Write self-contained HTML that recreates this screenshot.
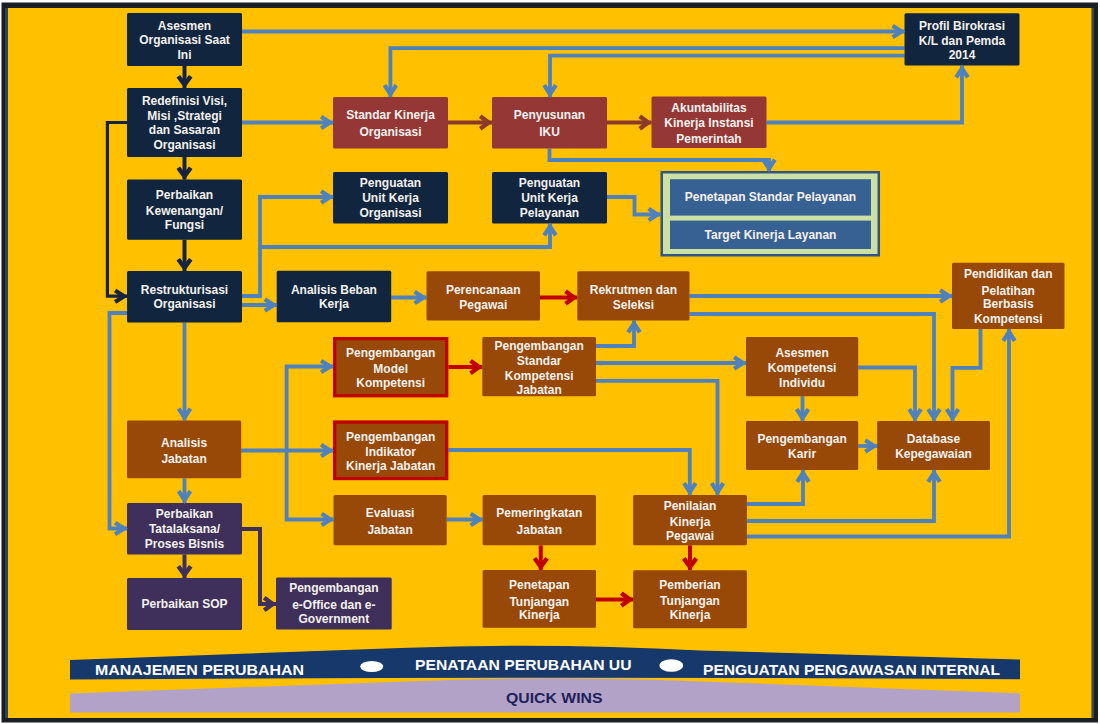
<!DOCTYPE html>
<html><head><meta charset="utf-8"><style>
html,body{margin:0;padding:0;background:#fff;width:1100px;height:724px;overflow:hidden}
svg{display:block}
text{font-family:"Liberation Sans",sans-serif;font-weight:bold}
</style></head><body>
<svg width="1100" height="724" viewBox="0 0 1100 724">
<rect x="0" y="0" width="1100" height="724" fill="#ffffff"/>
<g>
<rect x="1.5" y="2.5" width="1096.5" height="720" fill="#1a1f24"/>
<rect x="5" y="8" width="3" height="710" fill="#2e4456"/>
<rect x="1091.5" y="8" width="2.5" height="710" fill="#3a4a50"/>
<rect x="8" y="8" width="1083.5" height="710" fill="#ffc000"/>

<polyline points="242,31.5 904.5,31.5" fill="none" stroke="#4f81bd" stroke-width="3.8" stroke-linejoin="miter"/>
<polyline points="904.5,48.2 390.4,48.2 390.4,97" fill="none" stroke="#4f81bd" stroke-width="3.8" stroke-linejoin="miter"/>
<polyline points="904.5,55.6 550,55.6 550,97" fill="none" stroke="#4f81bd" stroke-width="3.8" stroke-linejoin="miter"/>
<polyline points="242,122.5 333,122.5" fill="none" stroke="#4f81bd" stroke-width="3.8" stroke-linejoin="miter"/>
<polyline points="766.5,122.5 962,122.5 962,65.5" fill="none" stroke="#4f81bd" stroke-width="3.8" stroke-linejoin="miter"/>
<polyline points="549.5,148.5 549.5,160 769,160 769,171" fill="none" stroke="#4f81bd" stroke-width="3.8" stroke-linejoin="miter"/>
<polyline points="242,296 260,296 260,197 333,197" fill="none" stroke="#4f81bd" stroke-width="3.8" stroke-linejoin="miter"/>
<polyline points="260,247 550,247 550,223.5" fill="none" stroke="#4f81bd" stroke-width="3.8" stroke-linejoin="miter"/>
<polyline points="242,305 276.7,305" fill="none" stroke="#4f81bd" stroke-width="3.8" stroke-linejoin="miter"/>
<polyline points="607,197 634.5,197 634.5,214.5 660.5,214.5" fill="none" stroke="#4f81bd" stroke-width="3.8" stroke-linejoin="miter"/>
<polyline points="391.2,297.5 426.5,297.5" fill="none" stroke="#4f81bd" stroke-width="3.8" stroke-linejoin="miter"/>
<polyline points="689.5,296 952,296" fill="none" stroke="#4f81bd" stroke-width="3.8" stroke-linejoin="miter"/>
<polyline points="689.5,314 934,314 934,421" fill="none" stroke="#4f81bd" stroke-width="3.8" stroke-linejoin="miter"/>
<polyline points="858.2,367.5 915,367.5 915,421" fill="none" stroke="#4f81bd" stroke-width="3.8" stroke-linejoin="miter"/>
<polyline points="980.5,328.9 980.5,367.8 952.5,367.8 952.5,421" fill="none" stroke="#4f81bd" stroke-width="3.8" stroke-linejoin="miter"/>
<polyline points="746.9,536.5 1009,536.5 1009,328.9" fill="none" stroke="#4f81bd" stroke-width="3.8" stroke-linejoin="miter"/>
<polyline points="596,346 634,346 634,320.5" fill="none" stroke="#4f81bd" stroke-width="3.8" stroke-linejoin="miter"/>
<polyline points="596,363 746,363" fill="none" stroke="#4f81bd" stroke-width="3.8" stroke-linejoin="miter"/>
<polyline points="596,380.8 717.5,380.8 717.5,495" fill="none" stroke="#4f81bd" stroke-width="3.8" stroke-linejoin="miter"/>
<polyline points="448.4,450 689.8,450 689.8,495" fill="none" stroke="#4f81bd" stroke-width="3.8" stroke-linejoin="miter"/>
<polyline points="802.5,396.2 802.5,421" fill="none" stroke="#4f81bd" stroke-width="3.8" stroke-linejoin="miter"/>
<polyline points="746.9,504 803,504 803,470" fill="none" stroke="#4f81bd" stroke-width="3.8" stroke-linejoin="miter"/>
<polyline points="746.9,521 934,521 934,470" fill="none" stroke="#4f81bd" stroke-width="3.8" stroke-linejoin="miter"/>
<polyline points="858.2,446 877.1,446" fill="none" stroke="#4f81bd" stroke-width="3.8" stroke-linejoin="miter"/>
<polyline points="184.5,322.5 184.5,420.6" fill="none" stroke="#4f81bd" stroke-width="3.8" stroke-linejoin="miter"/>
<polyline points="127,313 109.5,313 109.5,528.5 127,528.5" fill="none" stroke="#4f81bd" stroke-width="3.8" stroke-linejoin="miter"/>
<polyline points="184.5,478.3 184.5,503" fill="none" stroke="#4f81bd" stroke-width="3.8" stroke-linejoin="miter"/>
<polyline points="241.2,450.5 333,450.5" fill="none" stroke="#4f81bd" stroke-width="3.8" stroke-linejoin="miter"/>
<polyline points="286.6,450.5 286.6,366.5 333,366.5" fill="none" stroke="#4f81bd" stroke-width="3.8" stroke-linejoin="miter"/>
<polyline points="286.6,450.5 286.6,519.5 333.5,519.5" fill="none" stroke="#4f81bd" stroke-width="3.8" stroke-linejoin="miter"/>
<polyline points="446.7,519.5 482.6,519.5" fill="none" stroke="#4f81bd" stroke-width="3.8" stroke-linejoin="miter"/>
<polyline points="184.5,66 184.5,88" fill="none" stroke="#172440" stroke-width="4" stroke-linejoin="miter"/>
<polyline points="184.5,157 184.5,179.5" fill="none" stroke="#172440" stroke-width="4" stroke-linejoin="miter"/>
<polyline points="184.5,239.8 184.5,271" fill="none" stroke="#172440" stroke-width="4" stroke-linejoin="miter"/>
<polyline points="127,122.5 107.4,122.5 107.4,296.2 127,296.2" fill="none" stroke="#172440" stroke-width="3.2" stroke-linejoin="miter"/>
<polyline points="184.5,554.5 184.5,578" fill="none" stroke="#3e305a" stroke-width="4" stroke-linejoin="miter"/>
<polyline points="242,529 260,529 260,604 276,604" fill="none" stroke="#3e305a" stroke-width="4" stroke-linejoin="miter"/>
<polyline points="448,122.5 492,122.5" fill="none" stroke="#8b3a2a" stroke-width="4" stroke-linejoin="miter"/>
<polyline points="607,122.5 651.5,122.5" fill="none" stroke="#8b3a2a" stroke-width="4" stroke-linejoin="miter"/>
<polyline points="540,297.5 577.3,297.5" fill="none" stroke="#c00000" stroke-width="4" stroke-linejoin="miter"/>
<polyline points="448.4,367 482.3,367" fill="none" stroke="#c00000" stroke-width="4" stroke-linejoin="miter"/>
<polyline points="540.75,545.3 540.75,570" fill="none" stroke="#c00000" stroke-width="4" stroke-linejoin="miter"/>
<polyline points="596,599.5 633.1,599.5" fill="none" stroke="#c00000" stroke-width="4" stroke-linejoin="miter"/>
<polyline points="690,545.3 690,570.2" fill="none" stroke="#c00000" stroke-width="4" stroke-linejoin="miter"/>
<rect x="127" y="13" width="115" height="53" rx="1.5" fill="#11253f"/>
<text x="184.5" y="29.6" font-size="12" fill="#f4f1ee" text-anchor="middle">Asesmen</text>
<text x="184.5" y="44.3" font-size="12" fill="#f4f1ee" text-anchor="middle">Organisasi Saat</text>
<text x="184.5" y="58.5" font-size="12" fill="#f4f1ee" text-anchor="middle">Ini</text>
<rect x="127" y="88" width="115" height="69" rx="1.5" fill="#11253f"/>
<text x="184.5" y="105.0" font-size="12" fill="#f4f1ee" text-anchor="middle">Redefinisi Visi,</text>
<text x="184.5" y="120.0" font-size="12" fill="#f4f1ee" text-anchor="middle">Misi ,Strategi</text>
<text x="184.5" y="133.8" font-size="12" fill="#f4f1ee" text-anchor="middle">dan Sasaran</text>
<text x="184.5" y="148.6" font-size="12" fill="#f4f1ee" text-anchor="middle">Organisasi</text>
<rect x="127" y="179.5" width="115" height="60.30000000000001" rx="1.5" fill="#11253f"/>
<text x="184.5" y="199.0" font-size="12" fill="#f4f1ee" text-anchor="middle">Perbaikan</text>
<text x="184.5" y="214.8" font-size="12" fill="#f4f1ee" text-anchor="middle">Kewenangan/</text>
<text x="184.5" y="228.8" font-size="12" fill="#f4f1ee" text-anchor="middle">Fungsi</text>
<rect x="127" y="271" width="115" height="51.5" rx="1.5" fill="#11253f"/>
<text x="184.5" y="293.8" font-size="12" fill="#f4f1ee" text-anchor="middle">Restrukturisasi</text>
<text x="184.5" y="308.3" font-size="12" fill="#f4f1ee" text-anchor="middle">Organisasi</text>
<rect x="333" y="172" width="115" height="51.5" rx="1.5" fill="#11253f"/>
<text x="390.5" y="186.5" font-size="12" fill="#f4f1ee" text-anchor="middle">Penguatan</text>
<text x="390.5" y="202.3" font-size="12" fill="#f4f1ee" text-anchor="middle">Unit Kerja</text>
<text x="390.5" y="216.7" font-size="12" fill="#f4f1ee" text-anchor="middle">Organisasi</text>
<rect x="492" y="172" width="115" height="51.5" rx="1.5" fill="#11253f"/>
<text x="549.5" y="186.5" font-size="12" fill="#f4f1ee" text-anchor="middle">Penguatan</text>
<text x="549.5" y="202.3" font-size="12" fill="#f4f1ee" text-anchor="middle">Unit Kerja</text>
<text x="549.5" y="216.7" font-size="12" fill="#f4f1ee" text-anchor="middle">Pelayanan</text>
<rect x="276.7" y="270.8" width="114.5" height="51.5" rx="1.5" fill="#11253f"/>
<text x="333.95" y="293.7" font-size="12" fill="#f4f1ee" text-anchor="middle">Analisis Beban</text>
<text x="333.95" y="308.4" font-size="12" fill="#f4f1ee" text-anchor="middle">Kerja</text>
<rect x="904.5" y="13.3" width="115.0" height="52.2" rx="1.5" fill="#11253f"/>
<text x="962.0" y="29.5" font-size="12" fill="#f4f1ee" text-anchor="middle">Profil Birokrasi</text>
<text x="962.0" y="44.5" font-size="12" fill="#f4f1ee" text-anchor="middle">K/L dan Pemda</text>
<text x="962.0" y="58.8" font-size="12" fill="#f4f1ee" text-anchor="middle">2014</text>
<rect x="333" y="97" width="115" height="51.5" rx="1.5" fill="#953735"/>
<text x="390.5" y="119.4" font-size="12" fill="#f4f1ee" text-anchor="middle">Standar Kinerja</text>
<text x="390.5" y="135.5" font-size="12" fill="#f4f1ee" text-anchor="middle">Organisasi</text>
<rect x="492" y="97" width="115" height="51.5" rx="1.5" fill="#953735"/>
<text x="549.5" y="118.8" font-size="12" fill="#f4f1ee" text-anchor="middle">Penyusunan</text>
<text x="549.5" y="135.9" font-size="12" fill="#f4f1ee" text-anchor="middle">IKU</text>
<rect x="651.5" y="96.5" width="115.0" height="51.5" rx="1.5" fill="#953735"/>
<text x="709.0" y="112.0" font-size="12" fill="#f4f1ee" text-anchor="middle">Akuntabilitas</text>
<text x="709.0" y="127.3" font-size="12" fill="#f4f1ee" text-anchor="middle">Kinerja Instansi</text>
<text x="709.0" y="142.6" font-size="12" fill="#f4f1ee" text-anchor="middle">Pemerintah</text>
<rect x="426.5" y="271.3" width="113.5" height="49.19999999999999" rx="1.5" fill="#984807"/>
<text x="483.25" y="294.3" font-size="12" fill="#f4f1ee" text-anchor="middle">Perencanaan</text>
<text x="483.25" y="308.8" font-size="12" fill="#f4f1ee" text-anchor="middle">Pegawai</text>
<rect x="577.3" y="271.3" width="112.20000000000005" height="49.19999999999999" rx="1.5" fill="#984807"/>
<text x="633.4" y="294.3" font-size="12" fill="#f4f1ee" text-anchor="middle">Rekrutmen dan</text>
<text x="633.4" y="308.8" font-size="12" fill="#f4f1ee" text-anchor="middle">Seleksi</text>
<rect x="952" y="262.8" width="112.5" height="66.09999999999997" rx="1.5" fill="#984807"/>
<text x="1008.25" y="278.3" font-size="12" fill="#f4f1ee" text-anchor="middle">Pendidikan dan</text>
<text x="1008.25" y="295.3" font-size="12" fill="#f4f1ee" text-anchor="middle">Pelatihan</text>
<text x="1008.25" y="308.4" font-size="12" fill="#f4f1ee" text-anchor="middle">Berbasis</text>
<text x="1008.25" y="322.6" font-size="12" fill="#f4f1ee" text-anchor="middle">Kompetensi</text>
<rect x="333" y="337" width="115.39999999999998" height="60.39999999999998" fill="#c00000"/>
<rect x="336.3" y="340.3" width="108.79999999999998" height="53.799999999999976" fill="#984807"/>
<text x="390.7" y="356.7" font-size="12" fill="#f4f1ee" text-anchor="middle">Pengembangan</text>
<text x="390.7" y="372.8" font-size="12" fill="#f4f1ee" text-anchor="middle">Model</text>
<text x="390.7" y="387.3" font-size="12" fill="#f4f1ee" text-anchor="middle">Kompetensi</text>
<rect x="482.3" y="337" width="113.69999999999999" height="59.19999999999999" rx="1.5" fill="#984807"/>
<text x="539.15" y="349.9" font-size="12" fill="#f4f1ee" text-anchor="middle">Pengembangan</text>
<text x="539.15" y="365.1" font-size="12" fill="#f4f1ee" text-anchor="middle">Standar</text>
<text x="539.15" y="379.6" font-size="12" fill="#f4f1ee" text-anchor="middle">Kompetensi</text>
<text x="539.15" y="394.1" font-size="12" fill="#f4f1ee" text-anchor="middle">Jabatan</text>
<rect x="746" y="337" width="112.20000000000005" height="59.19999999999999" rx="1.5" fill="#984807"/>
<text x="802.1" y="356.5" font-size="12" fill="#f4f1ee" text-anchor="middle">Asesmen</text>
<text x="802.1" y="372.0" font-size="12" fill="#f4f1ee" text-anchor="middle">Kompetensi</text>
<text x="802.1" y="387.2" font-size="12" fill="#f4f1ee" text-anchor="middle">Individu</text>
<rect x="127" y="420.6" width="114.19999999999999" height="57.69999999999999" rx="1.5" fill="#984807"/>
<text x="184.1" y="447.0" font-size="12" fill="#f4f1ee" text-anchor="middle">Analisis</text>
<text x="184.1" y="462.7" font-size="12" fill="#f4f1ee" text-anchor="middle">Jabatan</text>
<rect x="333" y="420.4" width="115.39999999999998" height="59.80000000000001" fill="#c00000"/>
<rect x="336.3" y="423.7" width="108.79999999999998" height="53.20000000000001" fill="#984807"/>
<text x="390.7" y="440.7" font-size="12" fill="#f4f1ee" text-anchor="middle">Pengembangan</text>
<text x="390.7" y="456.0" font-size="12" fill="#f4f1ee" text-anchor="middle">Indikator</text>
<text x="390.7" y="469.5" font-size="12" fill="#f4f1ee" text-anchor="middle">Kinerja Jabatan</text>
<rect x="746" y="421" width="112.20000000000005" height="49" rx="1.5" fill="#984807"/>
<text x="802.1" y="443.0" font-size="12" fill="#f4f1ee" text-anchor="middle">Pengembangan</text>
<text x="802.1" y="457.6" font-size="12" fill="#f4f1ee" text-anchor="middle">Karir</text>
<rect x="877.1" y="421" width="112.89999999999998" height="49" rx="1.5" fill="#984807"/>
<text x="933.55" y="443.0" font-size="12" fill="#f4f1ee" text-anchor="middle">Database</text>
<text x="933.55" y="457.6" font-size="12" fill="#f4f1ee" text-anchor="middle">Kepegawaian</text>
<rect x="333.5" y="495" width="113.19999999999999" height="50.299999999999955" rx="1.5" fill="#984807"/>
<text x="390.1" y="517.3" font-size="12" fill="#f4f1ee" text-anchor="middle">Evaluasi</text>
<text x="390.1" y="534.3" font-size="12" fill="#f4f1ee" text-anchor="middle">Jabatan</text>
<rect x="482.6" y="495" width="113.39999999999998" height="50.299999999999955" rx="1.5" fill="#984807"/>
<text x="539.3" y="517.3" font-size="12" fill="#f4f1ee" text-anchor="middle">Pemeringkatan</text>
<text x="539.3" y="534.3" font-size="12" fill="#f4f1ee" text-anchor="middle">Jabatan</text>
<rect x="633.1" y="495" width="113.79999999999995" height="50.299999999999955" rx="1.5" fill="#984807"/>
<text x="690.0" y="509.9" font-size="12" fill="#f4f1ee" text-anchor="middle">Penilaian</text>
<text x="690.0" y="525.6" font-size="12" fill="#f4f1ee" text-anchor="middle">Kinerja</text>
<text x="690.0" y="540.4" font-size="12" fill="#f4f1ee" text-anchor="middle">Pegawai</text>
<rect x="482.6" y="570" width="113.39999999999998" height="57.799999999999955" rx="1.5" fill="#984807"/>
<text x="539.3" y="589.3" font-size="12" fill="#f4f1ee" text-anchor="middle">Penetapan</text>
<text x="539.3" y="605.6" font-size="12" fill="#f4f1ee" text-anchor="middle">Tunjangan</text>
<text x="539.3" y="619.1" font-size="12" fill="#f4f1ee" text-anchor="middle">Kinerja</text>
<rect x="633.1" y="570.2" width="113.79999999999995" height="58.0" rx="1.5" fill="#984807"/>
<text x="690.0" y="588.5" font-size="12" fill="#f4f1ee" text-anchor="middle">Pemberian</text>
<text x="690.0" y="604.8" font-size="12" fill="#f4f1ee" text-anchor="middle">Tunjangan</text>
<text x="690.0" y="619.0" font-size="12" fill="#f4f1ee" text-anchor="middle">Kinerja</text>
<rect x="127" y="503" width="115" height="51.5" rx="1.5" fill="#3e305a"/>
<text x="184.5" y="518.2" font-size="12" fill="#f4f1ee" text-anchor="middle">Perbaikan</text>
<text x="184.5" y="533.2" font-size="12" fill="#f4f1ee" text-anchor="middle">Tatalaksana/</text>
<text x="184.5" y="548.2" font-size="12" fill="#f4f1ee" text-anchor="middle">Proses Bisnis</text>
<rect x="127" y="578" width="115" height="52" rx="1.5" fill="#3e305a"/>
<text x="184.5" y="608.0" font-size="12" fill="#f4f1ee" text-anchor="middle">Perbaikan SOP</text>
<rect x="276" y="577.5" width="115.69999999999999" height="52.0" rx="1.5" fill="#3e305a"/>
<text x="333.85" y="592.4" font-size="12" fill="#f4f1ee" text-anchor="middle">Pengembangan</text>
<text x="333.85" y="608.9" font-size="12" fill="#f4f1ee" text-anchor="middle">e-Office dan e-</text>
<text x="333.85" y="622.9" font-size="12" fill="#f4f1ee" text-anchor="middle">Government</text>
<polyline points="892.6,37.3 901.6,31.5 892.6,25.7" fill="none" stroke="#4f81bd" stroke-width="4.2" stroke-linejoin="miter" stroke-linecap="butt"/>
<polyline points="384.6,85.1 390.4,94.1 396.2,85.1" fill="none" stroke="#4f81bd" stroke-width="4.2" stroke-linejoin="miter" stroke-linecap="butt"/>
<polyline points="544.2,85.1 550.0,94.1 555.8,85.1" fill="none" stroke="#4f81bd" stroke-width="4.2" stroke-linejoin="miter" stroke-linecap="butt"/>
<polyline points="321.1,128.3 330.1,122.5 321.1,116.7" fill="none" stroke="#4f81bd" stroke-width="4.2" stroke-linejoin="miter" stroke-linecap="butt"/>
<polyline points="967.8,77.4 962.0,68.4 956.2,77.4" fill="none" stroke="#4f81bd" stroke-width="4.2" stroke-linejoin="miter" stroke-linecap="butt"/>
<polyline points="321.1,202.8 330.1,197.0 321.1,191.2" fill="none" stroke="#4f81bd" stroke-width="4.2" stroke-linejoin="miter" stroke-linecap="butt"/>
<polyline points="555.8,235.4 550.0,226.4 544.2,235.4" fill="none" stroke="#4f81bd" stroke-width="4.2" stroke-linejoin="miter" stroke-linecap="butt"/>
<polyline points="264.8,310.8 273.8,305.0 264.8,299.2" fill="none" stroke="#4f81bd" stroke-width="4.2" stroke-linejoin="miter" stroke-linecap="butt"/>
<polyline points="414.6,303.3 423.6,297.5 414.6,291.7" fill="none" stroke="#4f81bd" stroke-width="4.2" stroke-linejoin="miter" stroke-linecap="butt"/>
<polyline points="940.1,301.8 949.1,296.0 940.1,290.2" fill="none" stroke="#4f81bd" stroke-width="4.2" stroke-linejoin="miter" stroke-linecap="butt"/>
<polyline points="928.2,409.1 934.0,418.1 939.8,409.1" fill="none" stroke="#4f81bd" stroke-width="4.2" stroke-linejoin="miter" stroke-linecap="butt"/>
<polyline points="909.2,409.1 915.0,418.1 920.8,409.1" fill="none" stroke="#4f81bd" stroke-width="4.2" stroke-linejoin="miter" stroke-linecap="butt"/>
<polyline points="946.7,409.1 952.5,418.1 958.3,409.1" fill="none" stroke="#4f81bd" stroke-width="4.2" stroke-linejoin="miter" stroke-linecap="butt"/>
<polyline points="1014.8,340.8 1009.0,331.8 1003.2,340.8" fill="none" stroke="#4f81bd" stroke-width="4.2" stroke-linejoin="miter" stroke-linecap="butt"/>
<polyline points="639.8,332.4 634.0,323.4 628.2,332.4" fill="none" stroke="#4f81bd" stroke-width="4.2" stroke-linejoin="miter" stroke-linecap="butt"/>
<polyline points="734.1,368.8 743.1,363.0 734.1,357.2" fill="none" stroke="#4f81bd" stroke-width="4.2" stroke-linejoin="miter" stroke-linecap="butt"/>
<polyline points="711.7,483.1 717.5,492.1 723.3,483.1" fill="none" stroke="#4f81bd" stroke-width="4.2" stroke-linejoin="miter" stroke-linecap="butt"/>
<polyline points="684.0,483.1 689.8,492.1 695.6,483.1" fill="none" stroke="#4f81bd" stroke-width="4.2" stroke-linejoin="miter" stroke-linecap="butt"/>
<polyline points="796.7,409.1 802.5,418.1 808.3,409.1" fill="none" stroke="#4f81bd" stroke-width="4.2" stroke-linejoin="miter" stroke-linecap="butt"/>
<polyline points="808.8,481.9 803.0,472.9 797.2,481.9" fill="none" stroke="#4f81bd" stroke-width="4.2" stroke-linejoin="miter" stroke-linecap="butt"/>
<polyline points="939.8,481.9 934.0,472.9 928.2,481.9" fill="none" stroke="#4f81bd" stroke-width="4.2" stroke-linejoin="miter" stroke-linecap="butt"/>
<polyline points="865.2,451.8 874.2,446.0 865.2,440.2" fill="none" stroke="#4f81bd" stroke-width="4.2" stroke-linejoin="miter" stroke-linecap="butt"/>
<polyline points="178.7,408.7 184.5,417.7 190.3,408.7" fill="none" stroke="#4f81bd" stroke-width="4.2" stroke-linejoin="miter" stroke-linecap="butt"/>
<polyline points="115.1,534.3 124.1,528.5 115.1,522.7" fill="none" stroke="#4f81bd" stroke-width="4.2" stroke-linejoin="miter" stroke-linecap="butt"/>
<polyline points="178.7,491.1 184.5,500.1 190.3,491.1" fill="none" stroke="#4f81bd" stroke-width="4.2" stroke-linejoin="miter" stroke-linecap="butt"/>
<polyline points="321.1,456.3 330.1,450.5 321.1,444.7" fill="none" stroke="#4f81bd" stroke-width="4.2" stroke-linejoin="miter" stroke-linecap="butt"/>
<polyline points="321.1,372.3 330.1,366.5 321.1,360.7" fill="none" stroke="#4f81bd" stroke-width="4.2" stroke-linejoin="miter" stroke-linecap="butt"/>
<polyline points="321.6,525.3 330.6,519.5 321.6,513.7" fill="none" stroke="#4f81bd" stroke-width="4.2" stroke-linejoin="miter" stroke-linecap="butt"/>
<polyline points="470.7,525.3 479.7,519.5 470.7,513.7" fill="none" stroke="#4f81bd" stroke-width="4.2" stroke-linejoin="miter" stroke-linecap="butt"/>
<polyline points="178.3,76.2 184.5,84.7 190.7,76.2" fill="none" stroke="#172440" stroke-width="4.4" stroke-linejoin="miter" stroke-linecap="butt"/>
<polyline points="178.3,167.7 184.5,176.2 190.7,167.7" fill="none" stroke="#172440" stroke-width="4.4" stroke-linejoin="miter" stroke-linecap="butt"/>
<polyline points="178.3,259.2 184.5,267.7 190.7,259.2" fill="none" stroke="#172440" stroke-width="4.4" stroke-linejoin="miter" stroke-linecap="butt"/>
<polyline points="115.1,302.0 124.1,296.2 115.1,290.4" fill="none" stroke="#172440" stroke-width="4.2" stroke-linejoin="miter" stroke-linecap="butt"/>
<polyline points="178.3,566.2 184.5,574.7 190.7,566.2" fill="none" stroke="#3e305a" stroke-width="4.4" stroke-linejoin="miter" stroke-linecap="butt"/>
<polyline points="264.2,610.2 272.7,604.0 264.2,597.8" fill="none" stroke="#3e305a" stroke-width="4.4" stroke-linejoin="miter" stroke-linecap="butt"/>
<polyline points="480.2,128.7 488.7,122.5 480.2,116.3" fill="none" stroke="#8b3a2a" stroke-width="4.4" stroke-linejoin="miter" stroke-linecap="butt"/>
<polyline points="639.7,128.7 648.2,122.5 639.7,116.3" fill="none" stroke="#8b3a2a" stroke-width="4.4" stroke-linejoin="miter" stroke-linecap="butt"/>
<polyline points="565.5,303.7 574.0,297.5 565.5,291.3" fill="none" stroke="#c00000" stroke-width="4.4" stroke-linejoin="miter" stroke-linecap="butt"/>
<polyline points="470.5,373.2 479.0,367.0 470.5,360.8" fill="none" stroke="#c00000" stroke-width="4.4" stroke-linejoin="miter" stroke-linecap="butt"/>
<polyline points="534.5,558.2 540.8,566.7 547.0,558.2" fill="none" stroke="#c00000" stroke-width="4.4" stroke-linejoin="miter" stroke-linecap="butt"/>
<polyline points="621.3,605.7 629.8,599.5 621.3,593.3" fill="none" stroke="#c00000" stroke-width="4.4" stroke-linejoin="miter" stroke-linecap="butt"/>
<polyline points="683.8,558.4 690.0,566.9 696.2,558.4" fill="none" stroke="#c00000" stroke-width="4.4" stroke-linejoin="miter" stroke-linecap="butt"/>
<rect x="660.5" y="171" width="219.5" height="85.5" fill="#2f5686"/>
<rect x="663" y="173.5" width="214.5" height="80.5" fill="#cde0a4"/>
<rect x="670" y="179.2" width="201" height="36.4" fill="#386193"/>
<rect x="670" y="220.6" width="201" height="28.4" fill="#386193"/>
<text x="770.5" y="201" font-size="12" fill="#f4f1ee" text-anchor="middle">Penetapan Standar Pelayanan</text>
<text x="770.5" y="238.5" font-size="12" fill="#f4f1ee" text-anchor="middle">Target Kinerja Layanan</text>
<polyline points="763.2,159.6 769.0,168.6 774.8,159.6" fill="none" stroke="#4f81bd" stroke-width="4.2" stroke-linejoin="miter" stroke-linecap="butt"/>
<polyline points="648.6,220.3 657.6,214.5 648.6,208.7" fill="none" stroke="#4f81bd" stroke-width="4.2" stroke-linejoin="miter" stroke-linecap="butt"/>
<path d="M70,693.5 L420,681 Q540,676 660,680 L1020,693.4 L1020,712.5 L70,712.5 Z" fill="#b3a2c7"/>
<path d="M70,660 L400,648 Q550,642.5 700,650.5 L1020,659.5 L1020,679.2 Q545,676 70,679.5 Z" fill="#17386a"/>
<ellipse cx="371.7" cy="666.5" rx="11.5" ry="5.5" fill="#ffffff"/>
<ellipse cx="671.3" cy="665.5" rx="11.8" ry="6.3" fill="#ffffff"/>
<text x="95" y="675" font-size="15.5" fill="#ffffff" textLength="209" lengthAdjust="spacingAndGlyphs">MANAJEMEN PERUBAHAN</text>
<text x="415" y="669.6" font-size="15.5" fill="#ffffff" textLength="216.5" lengthAdjust="spacingAndGlyphs">PENATAAN PERUBAHAN UU</text>
<text x="703" y="675.4" font-size="15.5" fill="#ffffff" textLength="297" lengthAdjust="spacingAndGlyphs">PENGUATAN PENGAWASAN INTERNAL</text>
<text x="506" y="702.6" font-size="15.5" fill="#1f1f5c" textLength="96.5" lengthAdjust="spacingAndGlyphs">QUICK WINS</text>
</g></svg></body></html>
